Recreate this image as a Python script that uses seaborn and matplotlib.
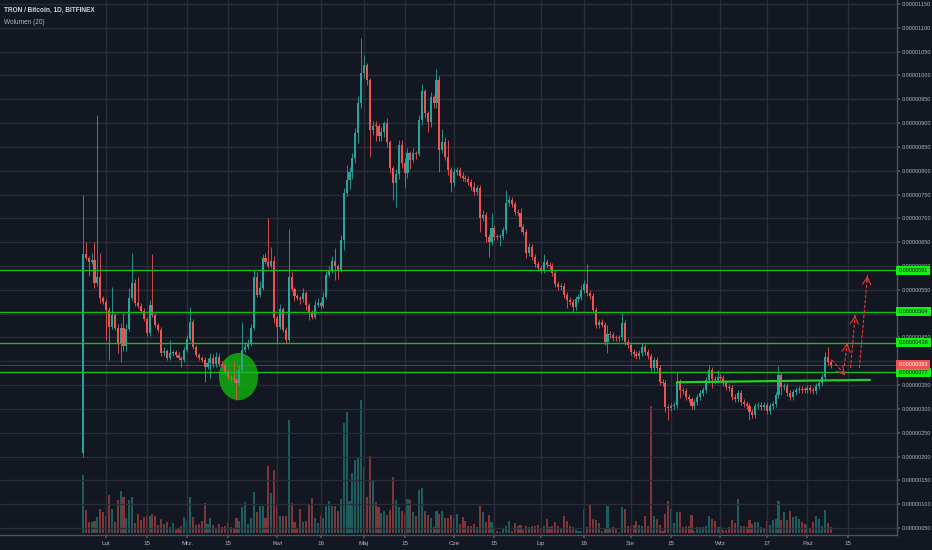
import numpy as np
import pandas as pd
import matplotlib
matplotlib.use("Agg")
import matplotlib.pyplot as plt
import matplotlib.dates as mdates
from matplotlib.patches import Ellipse
import seaborn as sns

# ---------------- data (prices in satoshi = 1e-8 BTC) ----------------
start_date = "2018-01-24"
first_open = 208

closes = [
    625, 617, 609, 612, 564, 577, 533, 525, 508, 472, 497, 470, 438, 470, 432, 468,
    533, 564, 522, 516, 506, 489, 459, 518, 497, 476, 466, 417, 421, 407, 417, 419,
    414, 407, 403, 424, 447, 483, 430, 413, 407, 403, 388, 396, 407, 394, 409, 395,
    392, 378, 367, 364, 361, 355, 382, 424, 430, 437, 470, 577, 539, 554, 617,
    609, 600, 610, 491, 472, 510, 466, 445, 577, 552, 537, 533, 530, 543, 518, 503,
    493, 518, 522, 516, 535, 581, 590, 611, 600, 592, 655, 753, 781, 797, 827, 879,
    942, 1005, 1022, 990, 886, 894, 893, 873, 881, 900, 860, 806, 774, 793, 854, 816,
    795, 837, 823, 837, 835, 907, 967, 921, 902, 955, 942, 990,
    844, 860, 829, 802, 774, 797, 802, 790, 785, 783, 776, 766, 755, 764, 701, 707,
    661, 650, 680, 661, 660, 662, 676, 732, 739, 730, 713, 711, 682, 671, 627, 640,
    619, 604, 596, 592, 608, 602, 600, 585, 562, 556, 558, 539, 529, 525, 514, 531,
    535, 550, 562, 543, 537, 508, 476, 483, 477, 441, 457, 455, 449, 448, 450,
    480, 441, 434, 420, 415, 411, 417, 430, 420, 411, 386, 403, 386, 357, 355, 304,
    302, 306, 308, 357, 340, 338, 325, 320, 306, 314, 325, 334, 340, 361, 382, 363,
    361, 367, 365, 354, 346, 344, 325, 321, 334, 315, 311, 306, 294, 287, 306, 308,
    304, 309, 296, 306, 311, 329, 371, 346, 348, 334, 325, 336, 340, 342, 340, 339,
    344, 340, 338, 348, 354, 367, 409, 399, 392,
]

wick_hi = [
    124, 25, 5, 15, 38, 340, 50, 5, 5, 5, 59, 5, 8, 10, 31, 10, 21, 63, 8, 55,
    6, 5, 5, 10, 107, 5, 5, 5, 8, 5, 28, 5, 5, 5, 5, 5, 8, 31, 5, 5,
    5, 5, 5, 10, 10, 8, 10, 8, 5, 5, 5, 5, 35, 5, 10, 59, 10, 10, 8, 15,
    10, 15, 8,
    10, 92, 30, 10, 5, 10, 5, 5, 101, 10, 5, 5, 5, 10, 5, 5, 5, 10, 10, 5,
    10, 10, 10, 10, 27, 5, 10, 10, 31, 10, 10, 10, 15, 74, 21, 5, 5, 10, 10, 5,
    10, 5, 10, 5, 5, 10, 10, 10, 10, 10, 5, 10, 5, 10, 15, 5, 5, 10, 5, 24,
    8, 28, 10, 35, 6, 8, 6, 6, 8, 6, 6, 6, 10, 6, 6, 10, 6, 6, 31, 6,
    6, 6, 6, 28, 8, 6, 6, 6, 10, 6, 6, 8, 6, 6, 6, 6, 17, 6, 6, 6,
    6, 6, 6, 6, 6, 6, 6, 6, 6, 10, 9, 42, 6, 6, 6, 6, 6, 6, 20, 6,
    6, 6, 6,
    21, 6, 6, 6, 6, 6, 6, 8, 6, 6, 6, 6, 6, 6, 6, 6, 6, 6, 6, 18,
    6, 6, 6, 6, 6, 6, 6, 6, 6, 6, 10, 6, 6, 15, 6, 6, 6, 6, 6, 6,
    6, 6, 6, 6, 6, 6, 6, 6, 6, 6, 6, 6, 6, 6, 19, 6, 6, 6, 6, 6,
    6, 6, 6, 6, 6, 6, 6, 6, 6, 6, 11, 21, 5,
]

wick_lo = [
    8, 5, 29, 5, 10, 5, 10, 5, 63, 69, 5, 5, 21, 39, 10, 10, 5, 5, 5, 5,
    5, 5, 5, 5, 5, 5, 5, 5, 5, 5, 5, 5, 5, 5, 15, 5, 5, 5, 5, 5,
    5, 5, 32, 5, 31, 5, 5, 5, 5, 5, 5, 5, 5, 36, 5, 5, 5, 5, 5, 5,
    5, 5, 5,
    5, 5, 5, 10, 34, 5, 5, 7, 5, 5, 10, 5, 10, 5, 10, 16, 5, 5, 5, 5,
    5, 5, 5, 5, 29, 20, 5, 21, 5, 20, 15, 10, 20, 10, 10, 10, 57, 10, 30, 10,
    10, 10, 10, 10, 35, 50, 10, 10, 29, 10, 20, 5, 10, 5, 10, 10, 20, 10, 10, 10,
    47, 6, 6, 10, 19, 6, 6, 6, 6, 6, 6, 6, 6, 6, 30, 6, 10, 31, 6, 6,
    6, 18, 6, 6, 6, 6, 6, 6, 10, 6, 10, 6, 6, 6, 6, 6, 6, 6, 6, 6,
    6, 6, 6, 6, 17, 6, 10, 6, 6, 6, 6, 6, 6, 6, 6, 6, 6, 6, 24, 6,
    6, 6, 6,
    6, 6, 6, 6, 6, 6, 6, 6, 6, 6, 6, 6, 6, 6, 6, 10, 25, 6, 6, 6,
    17, 6, 6, 6, 6, 6, 6, 6, 6, 6, 6, 19, 6, 6, 6, 6, 6, 6, 6, 6,
    6, 6, 6, 6, 17, 6, 6, 6, 6, 6, 6, 6, 6, 6, 6, 17, 6, 6, 6, 6,
    6, 6, 6, 6, 6, 6, 6, 6, 6, 6, 6, 6, 6,
]

volumes = [
    58, 23, 11, 11, 12, 16, 24, 21, 17, 38, 24, 11, 33, 42, 36, 15, 33, 36, 10, 19,
    13, 16, 17, 17, 19, 17, 8, 14, 9, 11, 6, 10, 3, 5, 7, 16, 12, 36, 16, 8,
    9, 12, 30, 9, 15, 8, 4, 9, 6, 7, 11, 6, 5, 15, 12, 26, 31, 9, 15, 41,
    21, 27, 27, 15, 67, 40, 63, 27, 17, 17, 17, 113, 30, 11, 4, 24, 11, 12, 29, 35,
    15, 10, 18, 15, 27, 32, 27, 27, 22, 34, 110, 121, 32, 60, 73, 75, 133, 66, 36, 77,
    52, 31, 26, 20, 22, 18, 23, 56, 33, 26, 22, 19, 34, 33, 21, 17, 43, 45, 22, 18,
    15, 6, 22, 19, 22, 15, 15, 18, 15,
    19, 9, 16, 12, 7, 7, 9, 6, 27, 21, 11, 18, 11, 4, 2, 1, 4, 7, 12, 2,
    10, 7, 8, 3, 7, 6, 7, 7, 8, 4, 7, 14, 6, 7, 11, 7, 4, 17, 12, 7,
    6, 3, 2, 2, 24, 6, 29, 14, 13, 10, 2, 5, 27, 4, 6, 4, 1, 26, 24, 7,
    7, 8, 12, 8, 7, 17, 7, 127, 17, 14, 8, 2, 19, 32, 24, 10, 21, 21, 6, 7,
    7, 18, 2, 6, 6, 6, 7, 17, 14, 12, 6, 6, 3, 3, 6, 13, 10, 34, 7, 7,
    6, 13, 9, 11, 11, 6, 5, 12, 8, 13, 14, 32, 13, 21, 13, 22, 16, 17, 14, 11,
    9, 8, 4, 11, 17, 14, 7, 23, 10, 6,
]

levels = [591, 504, 439, 377]
last_price = 393
hidden_price_ticks = [400, 500]   # covered by the level boxes in the reference
support_days = [197, 263.6]
support_prices = [356, 361]
arrow_days = [(250.5, 255.0), (254.7, 255.7), (256.9, 258.5), (259.9, 262.8)]
arrow_prices = [(403, 371), (390, 438), (386, 502), (386, 585)]
circle_day, circle_price, circle_w, circle_h = 45.7, 368, 13.5, 99

tick_dates = ["2018-02-01", "2018-02-15", "2018-03-01", "2018-03-15", "2018-04-01",
              "2018-04-16", "2018-05-01", "2018-05-15", "2018-06-01", "2018-06-15",
              "2018-07-01", "2018-07-16", "2018-08-01", "2018-08-15", "2018-09-01",
              "2018-09-17", "2018-10-01", "2018-10-15"]
tick_labels = ["Lut", "15", "Mrz.", "15", "Kwi", "16", "Maj", "15", "Cze", "15",
               "Lip", "16", "Sie", "15", "Wrz", "17", "Paź", "15"]

# ---------------- style ----------------
BG = "#131722"
GRID = "#2a2e39"
TXT = "#b2b5be"
GREEN = "#26a69a"
RED = "#ef5350"
LEVEL = "#1fb81f"
LABEL_BOX = "#14ee14"

sns.set_theme(style="dark", rc={"axes.facecolor": BG, "figure.facecolor": BG})
plt.rcParams["font.family"] = ["Liberation Sans", "DejaVu Sans"]

n = len(closes)
dates = pd.date_range(start_date, periods=n, freq="D")
x = mdates.date2num(dates)
d0 = mdates.date2num(pd.Timestamp("2018-02-01"))

c = np.array(closes, dtype=float)
o = np.array([first_open] + closes[:-1], dtype=float)
up = c >= o
hi = np.maximum(o, c) + np.array(wick_hi, dtype=float)
lo = np.minimum(o, c) - np.array(wick_lo, dtype=float)
cols = np.where(up, GREEN, RED)

fig = plt.figure(figsize=(9.32, 5.5), dpi=100)
ax = fig.add_axes([0, 15 / 550, 897 / 932, 535 / 550])
ax2 = ax.twinx()

# volume (seaborn)
vol_df = pd.DataFrame({"x": x, "vol": volumes, "dir": np.where(up, "up", "down")})
sns.barplot(data=vol_df, x="x", y="vol", hue="dir", palette={"up": GREEN, "down": RED},
            native_scale=True, dodge=False, width=0.72, saturation=1, errorbar=None,
            legend=False, alpha=0.5, linewidth=0, ax=ax2)
ax2.set_ylim(-2, 533)
ax2.set_axis_off()

ax.set_zorder(ax2.get_zorder() + 1)
ax.patch.set_visible(False)

# candles
ax.vlines(x, lo, hi, colors=cols, lw=0.6, zorder=3)
body_h = np.maximum(np.abs(c - o), 2.0)
ax.bar(x, body_h, bottom=np.minimum(o, c), width=0.72, color=cols, linewidth=0, zorder=3.1)

# annotations
ax.add_patch(Ellipse((d0 + circle_day, circle_price), circle_w, circle_h,
                     facecolor="#12a312", edgecolor="none", alpha=0.9, zorder=2.8))
for lv in levels:
    ax.axhline(lv, color=LEVEL, lw=1.0, zorder=4)
ax.axhline(last_price, color=RED, lw=0.6, alpha=0.55, zorder=4)
ax.plot([d0 + s for s in support_days], support_prices, color="#22d022", lw=1.6, zorder=4)

for (xa, xb), (ya, yb) in zip(arrow_days, arrow_prices):
    xa, xb = d0 + xa, d0 + xb
    ax.plot([xa, xb], [ya, yb], color="#e53935", lw=0.8, ls=(0, (3, 1.5)), zorder=5)
    ax.annotate("", xy=(xb, yb), xytext=(xb - 0.12 * (xb - xa), yb - 0.12 * (yb - ya)),
                arrowprops=dict(arrowstyle="->,head_length=0.45,head_width=0.25",
                                color="#e53935", lw=0.8), zorder=5)

# axes
ax.set_xlim(d0 - 36.6, d0 + 272.9)
ax.set_ylim(35.4, 1158.4)
ax.yaxis.tick_right()
yt = np.arange(50, 1151, 50)
ax.set_yticks(yt)
ax.set_yticklabels(["" if v in hidden_price_ticks else f"{v / 1e8:.8f}" for v in yt])
ax.set_xticks([mdates.date2num(pd.Timestamp(t)) for t in tick_dates])
ax.set_xticklabels(tick_labels)
ax.tick_params(axis="y", labelsize=4, colors="#4c525e", labelcolor=TXT, length=2, pad=1.5,
               right=True, left=False)
ax.tick_params(axis="x", labelsize=4.5, colors="#4c525e", labelcolor=TXT, length=2, pad=2,
               bottom=True)
ax.grid(True, color=GRID, lw=1.0)
ax.set_axisbelow(True)
for side in ("left", "top"):
    ax.spines[side].set_visible(False)
for side in ("right", "bottom"):
    ax.spines[side].set_visible(True)
    ax.spines[side].set_color("#4c525e")
    ax.spines[side].set_linewidth(1.0)
ax.set_xlabel("")
ax.set_ylabel("")

# price labels on the scale
for lv in levels:
    ax.annotate(f"{lv / 1e8:.8f}", xy=(1, lv), xycoords=("axes fraction", "data"),
                xytext=(1.2, 0), textcoords="offset points", ha="left", va="center",
                fontsize=4, color="#131722",
                bbox=dict(boxstyle="square,pad=0.4", fc=LABEL_BOX, ec="none"),
                annotation_clip=False, zorder=10)
ax.annotate(f"{last_price / 1e8:.8f}", xy=(1, last_price), xycoords=("axes fraction", "data"),
            xytext=(1.2, 0), textcoords="offset points", ha="left", va="center",
            fontsize=4, color="#ffffff",
            bbox=dict(boxstyle="square,pad=0.4", fc=RED, ec="none"),
            annotation_clip=False, zorder=10)

fig.text(4 / 932, 1 - 10 / 550, "TRON / Bitcoin, 1D, BITFINEX", fontsize=4.7,
         fontweight="bold", color="#d1d4dc", ha="left", va="center")
fig.text(4 / 932, 1 - 22 / 550, "Wolumen (20)", fontsize=4.7, color=TXT,
         ha="left", va="center")

fig.savefig("out.png", dpi=100, facecolor=BG)
